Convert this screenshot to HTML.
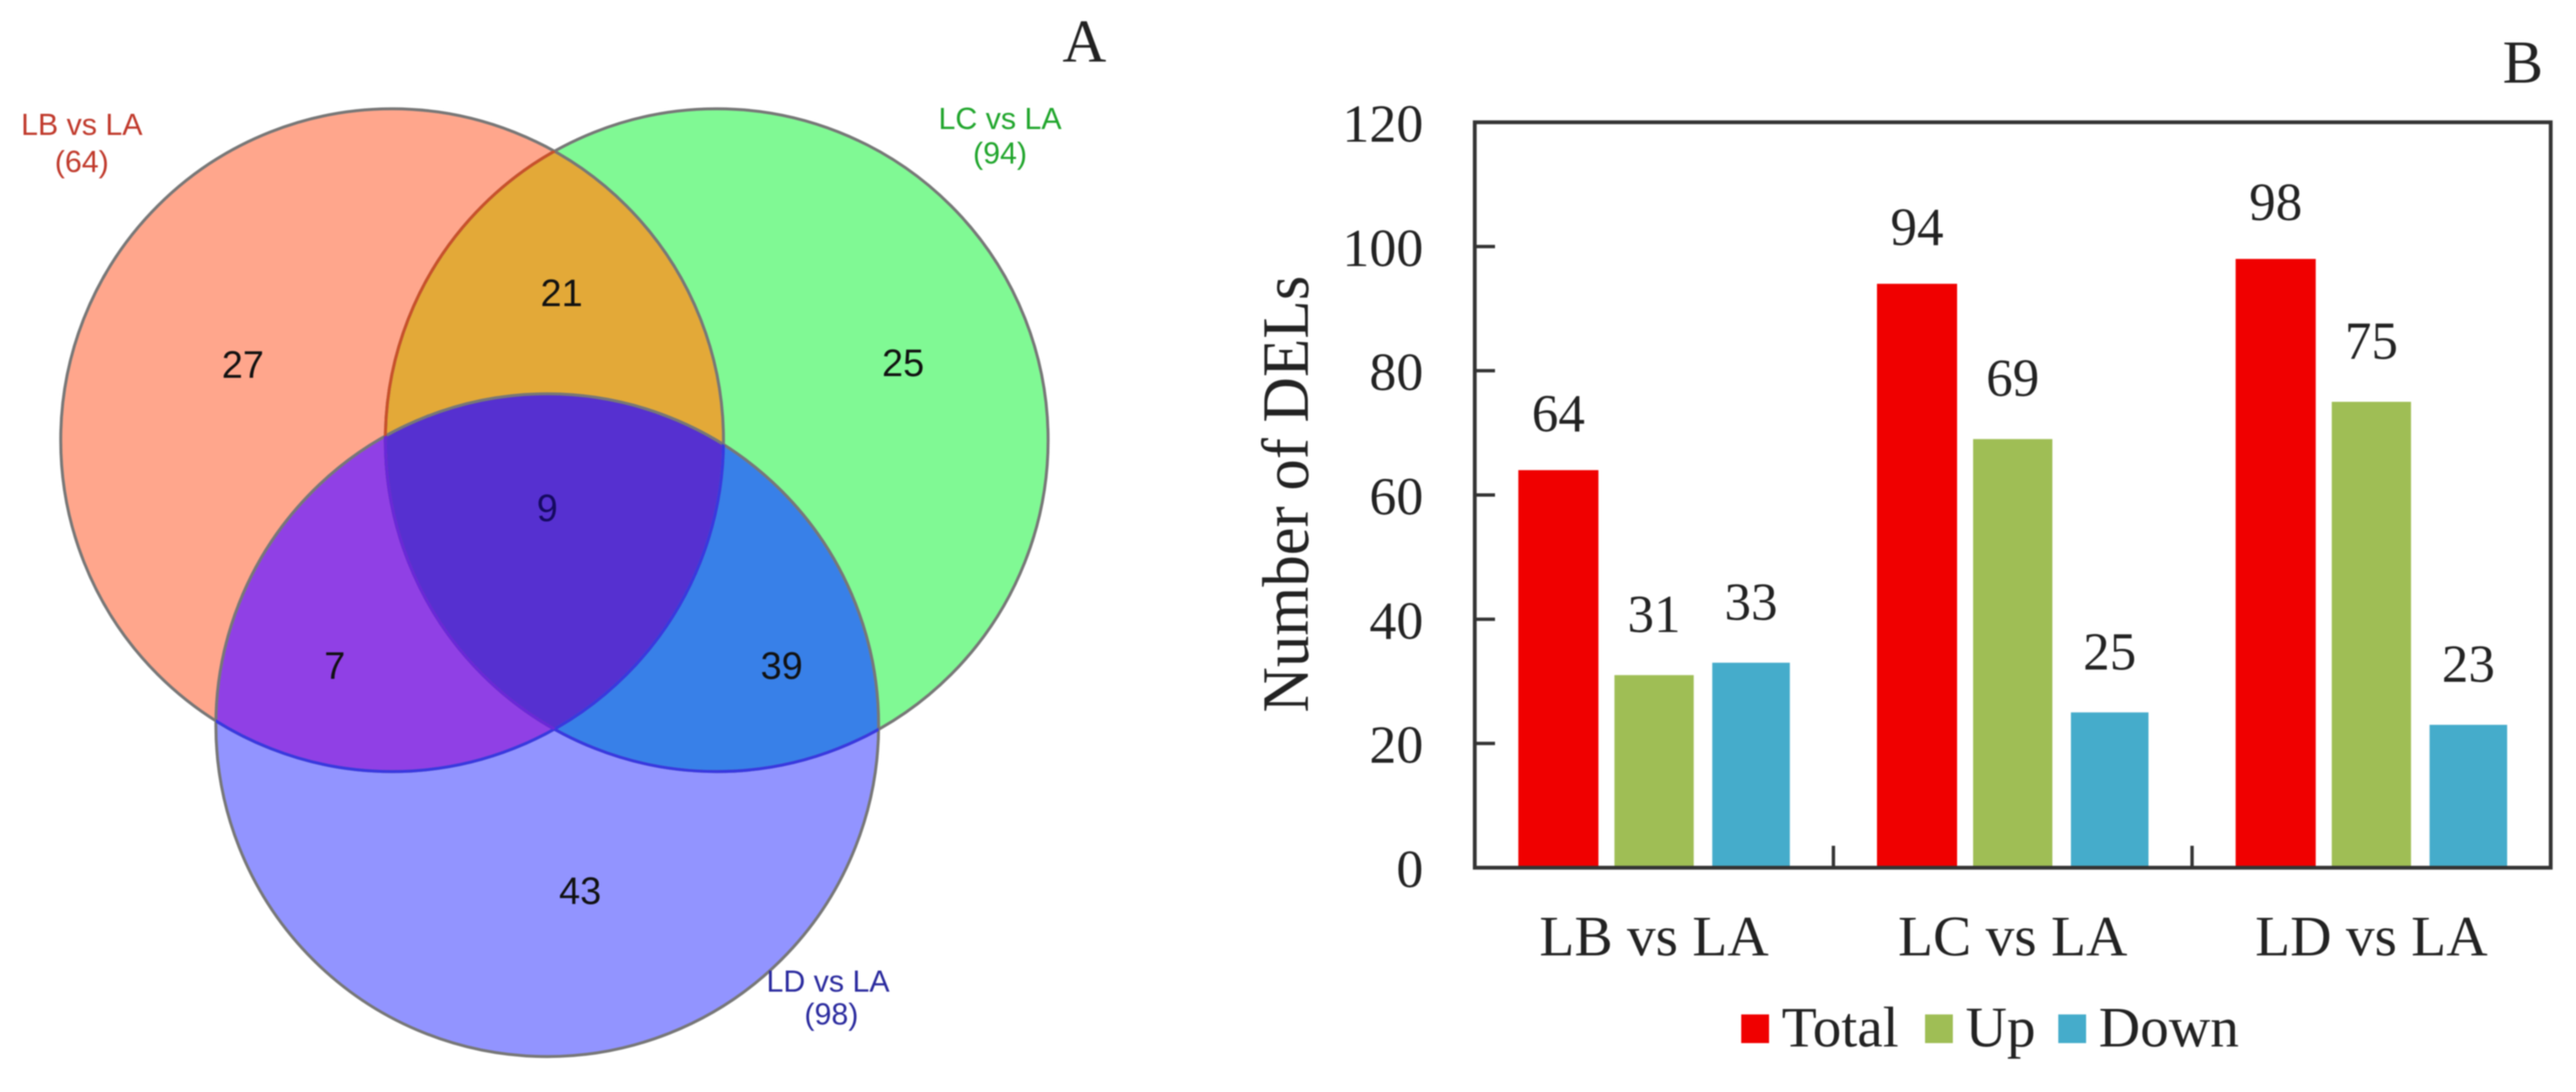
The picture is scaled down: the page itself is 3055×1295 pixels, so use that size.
<!DOCTYPE html>
<html><head><meta charset="utf-8"><title>DEL Venn and bar chart</title>
<style>html,body{margin:0;padding:0;background:#fff}svg{display:block;filter:blur(.9px)}
.s{font-family:"Liberation Serif",serif;fill:#222}.a{font-family:"Liberation Sans",sans-serif}</style></head>
<body>
<svg id="fig" xmlns="http://www.w3.org/2000/svg" width="3055" height="1295" viewBox="0 0 3055 1295">
<defs>
<clipPath id="cb"><circle cx="465" cy="522" r="393"/></clipPath>
<clipPath id="cc"><circle cx="850" cy="522" r="393"/></clipPath>
<clipPath id="cd"><circle cx="649" cy="860" r="393"/></clipPath>
</defs>
<g id="venn">
<circle cx="465" cy="522" r="393" fill="#FFA68C"/>
<circle cx="850" cy="522" r="393" fill="#80F994"/>
<circle cx="649" cy="860" r="393" fill="#9294FF"/>
<g clip-path="url(#cb)"><circle cx="850" cy="522" r="393" fill="#E3A938"/></g>
<g clip-path="url(#cb)"><circle cx="649" cy="860" r="393" fill="#9040E5"/></g>
<g clip-path="url(#cc)"><circle cx="649" cy="860" r="393" fill="#3880E8"/></g>
<g clip-path="url(#cb)"><g clip-path="url(#cc)"><circle cx="649" cy="860" r="393" fill="#5630D0"/></g></g>
<g fill="none" stroke="#777" stroke-width="3.5">
<circle cx="465" cy="522" r="393"/>
<circle cx="850" cy="522" r="393"/>
<circle cx="649" cy="860" r="393"/>
</g>
<g clip-path="url(#cb)"><circle cx="850" cy="522" r="393" fill="none" stroke="#C8502A" stroke-width="3.5"/></g>
<g clip-path="url(#cd)"><circle cx="465" cy="522" r="393" fill="none" stroke="#3838E0" stroke-width="3.5"/></g>
<g clip-path="url(#cd)"><circle cx="850" cy="522" r="393" fill="none" stroke="#3838E0" stroke-width="3.5"/></g>
<g clip-path="url(#cd)"><g clip-path="url(#cb)"><circle cx="850" cy="522" r="393" fill="none" stroke="#6A28D8" stroke-width="3.5"/></g></g>
<g class="a" font-size="45" text-anchor="middle" fill="#111">
<text x="288" y="448">27</text>
<text x="666" y="363">21</text>
<text x="1071" y="446">25</text>
<text x="649" y="618" fill="#150a60">9</text>
<text x="397" y="805">7</text>
<text x="927" y="805">39</text>
<text x="688" y="1072">43</text>
</g>
<g class="a" font-size="36" text-anchor="middle">
<text x="97" y="160" fill="#C0392B">LB vs LA</text>
<text x="97" y="204" fill="#C0392B">(64)</text>
<text x="1186" y="153" fill="#1FA52B">LC vs LA</text>
<text x="1186" y="194" fill="#1FA52B">(94)</text>
<text x="982" y="1176" fill="#2A2A9E">LD vs LA</text>
<text x="986" y="1215" fill="#2A2A9E">(98)</text>
</g>
<text class="s" x="1286" y="73" font-size="72" text-anchor="middle">A</text>
</g>
<g id="chart"></g>
<text class="s" x="2992" y="98" font-size="72" text-anchor="middle">B</text>
</svg>
<script>
const categories = ["LB vs LA", "LC vs LA", "LD vs LA"];
const seriesNames = ["Total", "Up", "Down"];
const totalValues = [64, 94, 98];
const upValues = [31, 69, 75];
const downValues = [33, 25, 23];
const yTickLabels = [0, 20, 40, 60, 80, 100, 120];
const yMax = 120;

const seriesColors = ["#F00000", "#9FBE55", "#45ACCB"];
const series = [totalValues, upValues, downValues];
const plotLeft = 1749, plotRight = 3025, plotTop = 145, plotBottom = 1029;
const barShift = [-113.5, 0, 115];
const barWidth = [95, 94, 92];
const labelGap = [46, 51, 51];
const NS = "http://www.w3.org/2000/svg";
const chart = document.getElementById("chart");
function yScale(v) { return plotBottom - (v / yMax) * (plotBottom - plotTop); }
function groupX(i) { return plotLeft + i * (plotRight - plotLeft) / categories.length; }
function barCenter(i, s) { return groupX(i) + (plotRight - plotLeft) / categories.length / 2 + barShift[s]; }
function make(tag, attrs, text) {
  const el = document.createElementNS(NS, tag);
  for (const k in attrs) el.setAttribute(k, attrs[k]);
  if (text !== undefined) el.textContent = text;
  chart.appendChild(el);
  return el;
}
series.forEach(function (vals, s) {
  vals.forEach(function (v, i) {
    const cx = barCenter(i, s);
    const bar = make("rect", { x: cx - barWidth[s] / 2, y: yScale(v), width: barWidth[s], height: plotBottom - yScale(v), fill: seriesColors[s] });
    
    
    const lab = make("text", { x: cx, y: yScale(v) - labelGap[s], "font-size": 63, "text-anchor": "middle", class: "s" }, v);
    
    
  });
});
const frame = make("path", { d: "M" + plotLeft + " " + plotBottom + "V" + plotTop + "H" + plotRight + "V" + plotBottom + "Z", fill: "none", stroke: "#333", "stroke-width": 4.5 });


yTickLabels.forEach(function (t) {
  const y = yScale(t);
  if (t > 0 && t < yMax) {
    const tick = make("line", { x1: plotLeft, x2: plotLeft + 24, y1: y, y2: y, stroke: "#333", "stroke-width": 4 });
    
    
  }
  const lab = make("text", { x: 1688, y: y + 23, "font-size": 64, "text-anchor": "end", class: "s" }, t);
  
  
});
categories.forEach(function (c, i) {
  if (i > 0) {
    const tick = make("line", { x1: groupX(i), x2: groupX(i), y1: plotBottom, y2: plotBottom - 26, stroke: "#333", "stroke-width": 4 });
    
    
  }
  const lab = make("text", { x: barCenter(i, 1), y: 1133, "font-size": 68, "text-anchor": "middle", class: "s" }, c);
  
  
});
const yTitle = make("text", { transform: "translate(1551 586) rotate(-90)", "font-size": 78, "text-anchor": "middle", textLength: 518, lengthAdjust: "spacingAndGlyphs", class: "s" }, "Number of DELs");


const legendSwatchX = [2065, 2283, 2441];
seriesNames.forEach(function (n, s) {
  const sw = make("rect", { x: legendSwatchX[s], y: 1203, width: 33, height: 34, fill: seriesColors[s] });
  
  
  const lab = make("text", { x: legendSwatchX[s] + 48, y: 1241, "font-size": 68, class: "s" }, n);
  
  
});
</script>
</body></html>
